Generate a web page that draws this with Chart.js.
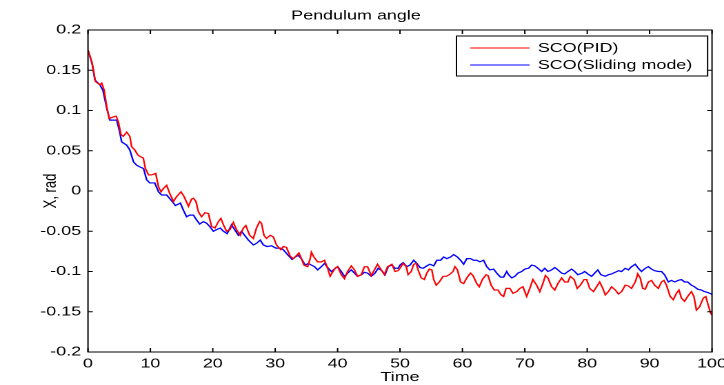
<!DOCTYPE html>
<html><head><meta charset="utf-8">
<script src="https://cdn.jsdelivr.net/npm/chart.js@4.4.1/dist/chart.umd.min.js"></script>
<style>
html,body{margin:0;padding:0;background:#fff;overflow:hidden;width:724px;height:385px;}
#wrap{position:absolute;left:0;top:0;width:525px;height:385px;transform:scale(1.379048,1);transform-origin:0 0;}
canvas{display:block;}
</style></head><body>
<div id="wrap"><canvas id="c" width="525" height="385"></canvas></div>
<script>
const chartTitle = 'Pendulum angle';
const xTitle = 'Time';
const yTitle = 'X, rad';
const seriesNames = ['SCO(PID)', 'SCO(Sliding mode)'];
const seriesColors = ['#ff0000', '#0000ff'];
const xTicks = [0,10,20,30,40,50,60,70,80,90,100];
const xTickLabels = ['0','10','20','30','40','50','60','70','80','90','100'];
const yTicks = [-0.2,-0.15,-0.1,-0.05,0,0.05,0.1,0.15,0.2];
const yTickLabels = ['-0.2','-0.15','-0.1','-0.05','0','0.05','0.1','0.15','0.2'];

const tRed = [0,0.6,0.85,1.2,1.9,2.2,2.6,3.0,3.4,4.06,4.5,4.86,5.3,5.66,6.2,6.7,7.0,7.5,7.96,8.3,8.86,9.2,9.7,10.2,10.85,11.3,11.7,12.07,12.6,13.1,13.7,14.2,14.9,15.4,16.1,16.6,16.9,17.3,17.7,18.2,18.75,19.3,19.8,20.35,20.9,21.3,21.7,22.2,22.75,23.3,23.8,24.4,24.9,25.3,25.9,26.5,27.0,27.5,27.8,28.2,28.6,29.2,29.7,30.2,30.9,31.3,31.8,32.4,32.9,33.3,33.8,34.1,34.6,35.2,35.6,35.8,36.2,36.8,37.4,37.9,38.4,38.8,39.1,39.6,40.0,40.6,41.1,41.6,42.2,42.7,43.2,43.8,44.3,44.8,45.4,45.9,46.4,47.0,47.5,48.0,48.7,49.2,49.7,50.0,50.5,51.0,51.3,51.8,52.2,52.6,52.9,53.4,53.9,54.3,54.7,55.1,55.4,55.8,56.3,56.9,57.4,57.9,58.5,58.8,59.2,59.7,60.2,60.7,61.3,61.7,62.3,62.7,63.2,63.8,64.1,64.6,65.1,65.7,66.2,66.6,67.0,67.6,68.1,68.7,69.2,69.7,70.3,70.8,71.3,71.9,72.4,72.9,73.3,73.7,74.3,74.8,75.3,75.9,76.4,76.9,77.3,77.9,78.4,78.9,79.5,79.9,80.4,81.0,81.5,82.0,82.5,82.9,83.4,83.9,84.5,85.0,85.5,86.1,86.6,87.1,87.7,88.1,88.5,88.9,89.3,89.8,90.3,90.8,91.4,91.9,92.3,92.7,93.3,93.8,94.3,94.7,95.1,95.6,96.1,96.7,97.1,97.5,98.0,98.6,99.0,99.4,99.8,100];
const xRed = [0.175,0.161,0.151,0.136,0.132,0.134,0.125,0.105,0.090,0.092,0.093,0.086,0.070,0.068,0.073,0.068,0.055,0.051,0.045,0.043,0.041,0.028,0.020,0.020,0.022,0.005,-0.001,0.003,0.007,-0.003,-0.013,-0.007,-0.001,-0.007,-0.019,-0.010,-0.009,-0.013,-0.026,-0.032,-0.027,-0.028,-0.044,-0.046,-0.038,-0.034,-0.042,-0.050,-0.048,-0.039,-0.048,-0.055,-0.046,-0.043,-0.055,-0.059,-0.046,-0.038,-0.040,-0.055,-0.059,-0.055,-0.057,-0.067,-0.073,-0.069,-0.070,-0.081,-0.084,-0.081,-0.077,-0.082,-0.092,-0.094,-0.084,-0.076,-0.082,-0.088,-0.088,-0.086,-0.096,-0.106,-0.102,-0.096,-0.094,-0.104,-0.109,-0.100,-0.093,-0.098,-0.106,-0.104,-0.094,-0.094,-0.105,-0.098,-0.091,-0.098,-0.104,-0.094,-0.091,-0.100,-0.099,-0.096,-0.090,-0.094,-0.104,-0.100,-0.091,-0.090,-0.098,-0.108,-0.110,-0.102,-0.097,-0.098,-0.110,-0.117,-0.113,-0.106,-0.106,-0.104,-0.100,-0.094,-0.098,-0.113,-0.115,-0.108,-0.102,-0.105,-0.115,-0.119,-0.110,-0.104,-0.105,-0.117,-0.123,-0.123,-0.129,-0.131,-0.121,-0.121,-0.127,-0.125,-0.121,-0.119,-0.131,-0.121,-0.110,-0.117,-0.125,-0.115,-0.105,-0.108,-0.119,-0.123,-0.115,-0.108,-0.113,-0.113,-0.106,-0.110,-0.121,-0.117,-0.110,-0.110,-0.121,-0.125,-0.119,-0.113,-0.121,-0.129,-0.125,-0.119,-0.123,-0.128,-0.125,-0.117,-0.118,-0.121,-0.113,-0.103,-0.108,-0.121,-0.122,-0.113,-0.111,-0.117,-0.121,-0.113,-0.111,-0.117,-0.131,-0.135,-0.127,-0.123,-0.133,-0.137,-0.131,-0.125,-0.131,-0.148,-0.144,-0.133,-0.131,-0.142,-0.152,-0.154];

const tBlue = [0,0.7,1.1,1.9,2.4,3.0,3.5,4.06,4.6,5.0,5.4,6.2,6.7,7.3,7.8,8.3,8.9,9.4,9.9,10.7,11.3,11.8,12.6,13.5,14.0,14.8,15.3,15.8,16.3,16.9,17.4,17.9,18.5,19.0,19.5,20.1,20.6,21.2,21.7,22.3,23.0,23.5,24.1,24.6,25.1,25.7,26.5,27.0,27.6,28.1,28.7,29.4,30.1,30.8,31.3,32.1,32.7,33.2,33.7,34.2,34.8,35.3,35.8,36.3,36.8,37.4,37.9,38.5,39.0,39.5,40.0,40.6,41.1,41.6,42.2,42.7,43.2,43.8,44.3,44.8,45.4,46.0,46.5,47.1,47.6,48.1,48.7,49.2,49.7,50.0,50.5,51.1,51.6,52.2,52.7,53.2,53.7,54.3,54.8,55.4,55.9,56.5,57.0,57.5,58.1,58.6,59.2,59.7,60.2,60.7,61.3,61.8,62.3,62.8,63.4,63.9,64.4,65.0,65.5,66.1,66.6,67.1,67.4,67.9,68.4,68.9,69.5,70.0,70.6,71.1,71.6,72.1,72.7,73.2,73.7,74.3,74.8,75.3,75.9,76.4,76.9,77.5,78.0,78.5,79.2,79.6,80.1,80.7,81.2,81.7,82.2,82.9,83.4,83.9,84.5,85.0,85.5,86.1,86.6,87.1,87.7,88.2,88.7,89.3,89.8,90.3,90.8,91.4,91.9,92.4,93.0,93.5,94.0,94.6,95.1,95.6,96.1,96.7,97.2,97.7,98.3,98.8,99.3,99.9,100];
const xBlue = [0.175,0.157,0.138,0.132,0.125,0.103,0.088,0.088,0.088,0.076,0.061,0.057,0.051,0.036,0.032,0.030,0.028,0.014,0.010,0.010,-0.001,-0.005,-0.005,-0.013,-0.018,-0.015,-0.024,-0.032,-0.030,-0.030,-0.036,-0.041,-0.038,-0.040,-0.044,-0.050,-0.048,-0.046,-0.050,-0.053,-0.042,-0.048,-0.055,-0.050,-0.055,-0.061,-0.067,-0.065,-0.061,-0.067,-0.069,-0.068,-0.071,-0.071,-0.073,-0.080,-0.085,-0.082,-0.080,-0.084,-0.092,-0.090,-0.092,-0.094,-0.098,-0.094,-0.090,-0.096,-0.100,-0.097,-0.094,-0.100,-0.106,-0.102,-0.098,-0.102,-0.106,-0.104,-0.101,-0.102,-0.106,-0.102,-0.096,-0.099,-0.104,-0.094,-0.092,-0.096,-0.096,-0.092,-0.089,-0.094,-0.092,-0.086,-0.090,-0.095,-0.096,-0.093,-0.091,-0.093,-0.086,-0.086,-0.082,-0.084,-0.082,-0.079,-0.082,-0.086,-0.091,-0.084,-0.084,-0.086,-0.086,-0.088,-0.086,-0.094,-0.098,-0.097,-0.102,-0.107,-0.107,-0.100,-0.104,-0.108,-0.106,-0.102,-0.100,-0.097,-0.096,-0.092,-0.093,-0.096,-0.100,-0.096,-0.100,-0.098,-0.095,-0.098,-0.102,-0.103,-0.100,-0.097,-0.100,-0.104,-0.102,-0.100,-0.103,-0.106,-0.102,-0.098,-0.104,-0.106,-0.104,-0.103,-0.101,-0.099,-0.100,-0.096,-0.098,-0.094,-0.091,-0.096,-0.100,-0.096,-0.094,-0.097,-0.099,-0.100,-0.100,-0.104,-0.113,-0.111,-0.113,-0.111,-0.110,-0.113,-0.113,-0.117,-0.119,-0.122,-0.123,-0.125,-0.126,-0.128,-0.129];

const FONT = {family:"'Liberation Sans', Arial, Helvetica, sans-serif", size:13, weight:'normal'};

const matlabPlugin = {
  id:'matlabBox',
  afterDatasetsDraw(chart){
    const {ctx, chartArea:a, scales:{x, y}} = chart;
    ctx.save();
    ctx.strokeStyle = '#000';
    ctx.lineWidth = 1;
    ctx.strokeRect(a.left, a.top, a.right - a.left, a.bottom - a.top);
    ctx.beginPath();
    xTicks.forEach(v => {
      const px = x.getPixelForValue(v);
      ctx.moveTo(px, a.bottom); ctx.lineTo(px, a.bottom - 4);
      ctx.moveTo(px, a.top); ctx.lineTo(px, a.top + 4);
    });
    yTicks.forEach(v => {
      const py = y.getPixelForValue(v);
      ctx.moveTo(a.left, py); ctx.lineTo(a.left + 3.5, py);
      ctx.moveTo(a.right, py); ctx.lineTo(a.right - 3.5, py);
    });
    ctx.stroke();
    // legend box
    const L = 331, R = a.right - 3.2, T = 36, B = 76;
    ctx.fillStyle = '#fff';
    ctx.fillRect(L, T, R - L, B - T);
    ctx.strokeRect(L, T, R - L, B - T);
    ctx.font = `${FONT.size}px ${FONT.family}`;
    ctx.textBaseline = 'middle';
    ctx.textAlign = 'left';
    chart.data.datasets.forEach((ds, i) => {
      const yy = 48 + i * 17;
      ctx.strokeStyle = ds.borderColor;
      ctx.beginPath(); ctx.moveTo(341, yy); ctx.lineTo(384, yy); ctx.stroke();
      ctx.fillStyle = '#000';
      ctx.fillText(ds.label, 390, yy + 0.5);
    });
    ctx.restore();
  }
};

new Chart(document.getElementById('c'), {
  type:'line',
  data:{
    datasets:[
      {label:seriesNames[0], data:tRed.map((t,i)=>({x:t, y:xRed[i]})), borderColor:seriesColors[0], borderWidth:1.2, pointRadius:0, tension:0, fill:false},
      {label:seriesNames[1], data:tBlue.map((t,i)=>({x:t, y:xBlue[i]})), borderColor:seriesColors[1], borderWidth:1.2, pointRadius:0, tension:0, fill:false}
    ]
  },
  options:{
    responsive:false,
    animation:false,
    devicePixelRatio:2,
    layout:{padding:{left:0, right:8.7, top:0, bottom:0}},
    plugins:{
      legend:{display:false},
      tooltip:{enabled:false},
      title:{display:true, text:chartTitle, color:'#000', font:FONT, padding:{top:8, bottom:6.4}}
    },
    scales:{
      x:{
        type:'linear', min:0, max:100,
        afterBuildTicks:s => { s.ticks = xTicks.map(v => ({value:v})); },
        afterFit:s => { s.height = 33; s.paddingLeft = 0; s.paddingRight = 0; },
        ticks:{color:'#000', font:FONT, padding:4, maxRotation:0, autoSkip:false, callback:(v,i)=>xTickLabels[i]},
        grid:{display:false, drawTicks:false},
        border:{display:false},
        title:{display:true, text:xTitle, color:'#000', font:FONT, padding:{top:0, bottom:0}}
      },
      y:{
        type:'linear', min:-0.2, max:0.2,
        afterBuildTicks:s => { s.ticks = yTicks.map(v => ({value:v})); },
        afterFit:s => { s.width = 63.8; s.paddingTop = 0; s.paddingBottom = 0; },
        ticks:{color:'#000', font:FONT, padding:5, autoSkip:false, callback:(v,i)=>yTickLabels[i]},
        grid:{display:false, drawTicks:false},
        border:{display:false},
        title:{display:true, text:yTitle, color:'#000', font:FONT, padding:{top:29, bottom:0}}
      }
    }
  },
  plugins:[matlabPlugin]
});
</script>
</body></html>
